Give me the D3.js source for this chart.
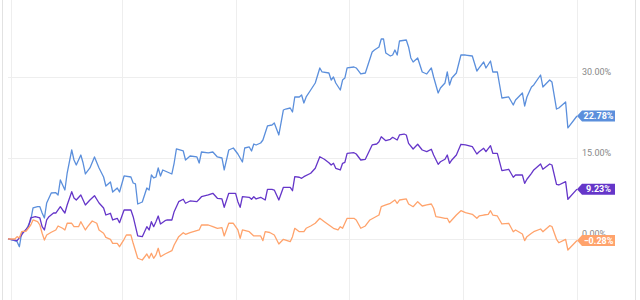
<!DOCTYPE html>
<html>
<head>
<meta charset="utf-8">
<script src="https://cdn.jsdelivr.net/npm/d3@7"></script>
<style>
  html, body { margin: 0; padding: 0; background: #fff; }
  svg { display: block; font-family: Roboto, "Noto Sans", sans-serif; }
</style>
</head>
<body>
<svg id="chart" width="640" height="300"></svg>
<script>
// [trading day, % change]
var fundA = [[0,0],[2,-0.19],[4,-0.5],[5,-1.43],[6,1.11],[7,1.35],[8,1.67],[10,3.52],[11,5.74],[13,5.98],[14,5.98],[15,4.81],[16,3.89],[17,6.67],[19,8.52],[21,8.57],[22,8.15],[23,10.93],[24,10],[25,9.07],[26,12.22],[28,16.48],[29,14.63],[30,13.7],[32,15.56],[33,14.07],[34,12.04],[36,13.15],[38,15.19],[40,13.15],[42,11.48],[43,9.81],[45,10.56],[46,8.7],[48,9.44],[49,8.7],[51,11.67],[54,11.48],[55,10.37],[56,10.19],[57,6.48],[59,6.85],[61,9.44],[62,9.07],[63,11.85],[64,11.3],[65,11.48],[66,13.15],[67,11.67],[68,12.78],[70,12.41],[72,12.04],[73,14.07],[74,16.67],[77,16.3],[78,14.63],[80,15.37],[83,15.19],[84,14.07],[85,16.11],[88,15.93],[90,16.11],[92,15.19],[94,15],[95,12.78],[97,16.48],[99,16.85],[101,15.74],[103,14.26],[104,16.85],[106,17.04],[107,16.3],[108,17.59],[109,17.41],[111,17.78],[112,18.33],[114,20.93],[116,21.11],[117,21.48],[119,19.26],[121,23.89],[122,24.07],[124,24.26],[125,23.52],[126,26.3],[128,26.3],[129,26.67],[130,25.19],[131,26.3],[133,27.59],[135,28.89],[137,31.67],[138,30.93],[141,30.74],[142,29.44],[143,30],[144,28.89],[146,27.59],[147,29.44],[148,29.81],[149,31.67],[152,31.85],[153,31.67],[155,30.56],[157,30.74],[160,34.63],[161,35],[163,35.56],[164,37.04],[165,37.04],[166,34.44],[168,33.89],[169,34.07],[170,35],[171,34.07],[172,36.67],[175,36.85],[176,35.56],[177,33.52],[178,32.78],[180,33.52],[182,30.93],[184,30.56],[186,31.67],[187,30],[189,27.04],[190,27.96],[192,28.89],[193,30.93],[194,28.52],[195,29.81],[197,30.74],[199,34.07],[201,34.07],[204,33.89],[206,31.11],[207,31.67],[209,32.78],[210,31.67],[212,32.96],[213,30.93],[215,30.93],[217,26.11],[220,26.3],[222,24.81],[223,25.74],[226,27.04],[227,24.63],[228,26.3],[230,28.15],[231,28.52],[234,30.37],[235,28.15],[238,29.44],[239,29.07],[241,24.07],[242,24.26],[245,25.37],[246,20.56],[250,22.78]];

var fundB = [[0,0],[4,-0.31],[6,0.74],[7,1.35],[9,2.28],[10,3.89],[12,4.13],[14,3.89],[15,2.28],[16,1.67],[17,3.52],[18,4.13],[20,4.81],[21,4.81],[23,5.98],[24,5.37],[25,4.81],[26,6.3],[28,8.76],[29,7.59],[30,7.22],[32,8.15],[33,7.22],[34,6.3],[36,7.22],[38,8.02],[40,6.67],[42,5.74],[43,4.44],[45,4.76],[46,3.52],[48,3.83],[49,3.02],[51,5.37],[54,5.37],[55,4.13],[57,0.56],[59,0.43],[61,2.28],[62,1.67],[63,3.2],[64,2.28],[65,3.2],[66,4.26],[67,2.78],[69,3.39],[70,3.52],[72,3.52],[73,5.06],[75,6.91],[77,7.35],[78,6.61],[80,7.04],[83,6.91],[84,7.35],[85,7.83],[88,8.15],[90,8.46],[92,7.54],[94,7.41],[95,5.87],[97,8.46],[100,8.46],[101,6.91],[102,5.87],[103,7.83],[106,7.72],[107,7.35],[108,7.83],[109,7.41],[111,7.72],[113,7.22],[114,9.2],[116,9.2],[117,9.07],[119,7.22],[121,9.57],[124,9.57],[125,8.94],[126,11.54],[128,11.43],[129,11.24],[130,11.54],[133,12.17],[135,13.09],[137,15.24],[139,14.76],[141,14.13],[142,13.7],[143,14.02],[144,13.09],[146,12.78],[147,14.02],[148,14.2],[149,15.87],[152,15.98],[153,15.74],[155,14.63],[157,14.76],[160,17.41],[162,17.59],[163,18.02],[164,18.94],[166,18.2],[168,18.46],[169,18.83],[171,18.33],[172,19.26],[174,19.44],[175,19.26],[176,17.72],[178,16.67],[180,17.54],[182,16.48],[184,16.17],[186,16.61],[187,15.56],[189,13.83],[190,14.31],[192,14.76],[193,15.56],[194,14.02],[195,14.63],[197,15.56],[199,17.54],[201,17.41],[204,17.09],[206,15.74],[207,16.17],[209,16.8],[210,16.17],[212,17.28],[213,15.87],[215,15.87],[217,12.65],[220,12.91],[222,11.43],[223,11.85],[226,11.85],[227,10.31],[228,11.06],[230,12.17],[231,12.78],[234,13.89],[235,12.91],[238,13.89],[239,13.7],[241,10.13],[242,10],[245,10.61],[246,7.35],[250,9.23]];

var fundC = [[0,0],[3,0],[4,0.43],[5,0.19],[6,1.35],[8,1.48],[10,2.59],[11,3.52],[13,3.2],[14,2.59],[15,1.06],[16,-0.19],[17,0.74],[19,1.24],[21,1.67],[22,2.41],[24,1.98],[25,1.67],[26,2.91],[28,2.91],[29,2.28],[31,2.28],[32,3.2],[34,1.67],[35,2.28],[37,3.33],[39,2.91],[40,1.67],[42,1.06],[43,0.31],[45,-0.06],[46,-0.8],[48,-0.8],[49,-1.43],[51,-0.06],[52,0.74],[54,0.74],[55,-0.8],[57,-3.57],[59,-3.89],[61,-2.78],[62,-3.57],[63,-2.65],[64,-3.57],[65,-2.96],[66,-1.72],[67,-3.28],[69,-2.78],[72,-2.17],[73,-1.11],[75,0.43],[77,1.17],[78,0.87],[80,1.17],[84,1.67],[85,2.59],[88,2.59],[90,2.28],[92,1.98],[94,2.09],[95,0.56],[97,2.91],[99,2.91],[101,1.67],[102,0.13],[103,1.67],[106,1.35],[108,0.56],[111,0.56],[112,-0.31],[113,1.35],[115,1.2],[117,0.74],[119,-0.93],[121,-0.06],[124,-0.5],[125,0.43],[126,1.98],[128,1.35],[130,1.35],[131,1.98],[133,2.41],[135,2.91],[137,3.83],[139,3.2],[141,2.59],[143,1.98],[145,1.67],[146,2.28],[147,1.98],[149,3.83],[152,3.83],[153,3.52],[155,1.98],[157,2.41],[159,3.52],[163,4.44],[164,5.98],[166,6.3],[168,6.61],[170,7.22],[171,6.61],[172,7.22],[175,7.41],[176,6.48],[178,5.98],[180,6.91],[182,6.11],[184,6.3],[186,6.48],[187,5.69],[188,4.13],[190,4.02],[192,3.83],[193,3.83],[194,3.02],[195,3.52],[197,4.44],[199,5.24],[201,4.87],[204,4.57],[206,3.83],[207,4.26],[209,4.44],[211,4.57],[212,5.24],[213,4.44],[215,4.26],[217,2.78],[220,2.91],[222,1.35],[223,1.67],[226,0.93],[227,-0.31],[228,0.43],[230,1.06],[231,1.35],[234,1.85],[235,1.35],[238,2.46],[239,2.31],[241,-0.06],[242,-0.69],[245,-0.06],[246,-2.04],[250,-0.28]];

var series = [
  { data: fundA, color: '#5b8fdc' },
  { data: fundB, color: '#6536c9' },
  { data: fundC, color: '#ffa36c' }
];
var yTicks = [0, 15, 30];
var xGrid = [1.3, 50, 100, 150, 200, 250];

var svg = d3.select('#chart');
var x = d3.scaleLinear().domain([0, 250]).range([8, 577]);
var y = d3.scaleLinear().domain([-11.3, 44.26]).range([300, 0]);

// frame lines
svg.append('line').attr('x1', 2.5).attr('x2', 2.5).attr('y1', 0).attr('y2', 300).attr('stroke', '#e2e2e2');
svg.append('line').attr('x1', 635.5).attr('x2', 635.5).attr('y1', 0).attr('y2', 300).attr('stroke', '#e2e2e2');

// grid
svg.append('g').selectAll('line').data(xGrid).enter().append('line')
  .attr('x1', function(d) { return Math.round(x(d)) + 0.5; })
  .attr('x2', function(d) { return Math.round(x(d)) + 0.5; })
  .attr('y1', 0).attr('y2', 300)
  .attr('stroke', '#eeeeee');
svg.append('g').selectAll('line').data(yTicks).enter().append('line')
  .attr('x1', x(0)).attr('x2', x(250))
  .attr('y1', function(d) { return Math.round(y(d)) + 0.5; })
  .attr('y2', function(d) { return Math.round(y(d)) + 0.5; })
  .attr('stroke', '#eeeeee');

var fmt = function(v) { return d3.format('.2f')(v) + '%'; };

svg.append('g').selectAll('text').data(yTicks).enter().append('text')
  .attr('x', x(250) + 5)
  .attr('y', function(d) { return y(d) - 2; })
  .attr('font-size', 9)
  .attr('fill', '#888')
  .text(fmt);

var line = d3.line()
  .x(function(d) { return x(d[0]); })
  .y(function(d) { return y(d[1]); });

svg.append('g').selectAll('path').data(series).enter().append('path')
  .attr('d', function(s) { return line(s.data); })
  .attr('fill', 'none')
  .attr('stroke', function(s) { return s.color; })
  .attr('stroke-width', 1.3)
  .attr('stroke-linejoin', 'round');

// end value tags
var tag = svg.append('g').selectAll('g').data(series).enter().append('g')
  .attr('transform', function(s) {
    var last = s.data[s.data.length - 1];
    return 'translate(' + x(last[0]) + ',' + y(last[1]) + ')';
  });
tag.append('path')
  .attr('d', 'M0,0 L5,-5.5 L38,-5.5 L38,5.5 L5,5.5 Z')
  .attr('fill', function(s) { return s.color; });
tag.append('text')
  .attr('x', 21.5).attr('y', 3.3)
  .attr('text-anchor', 'middle')
  .attr('font-size', 9)
  .attr('font-weight', 'bold')
  .attr('fill', '#fff')
  .text(function(s) { return fmt(s.data[s.data.length - 1][1]); });
</script>
</body>
</html>
